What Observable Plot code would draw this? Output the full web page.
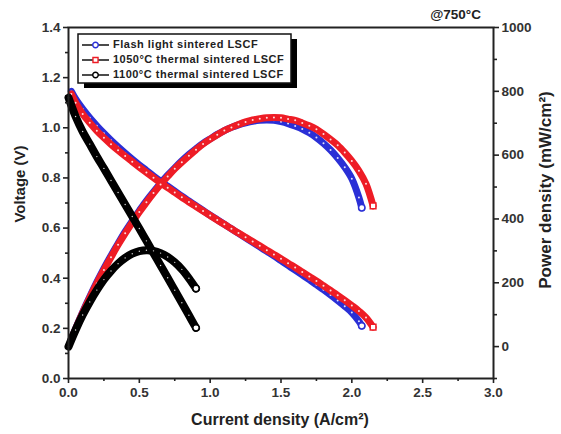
<!DOCTYPE html>
<html><head><meta charset="utf-8">
<script src="https://cdn.jsdelivr.net/npm/d3@7"></script>
<script src="https://cdn.jsdelivr.net/npm/@observablehq/plot@0.6"></script>
<style>
body{margin:0;background:#fff;}
#chart{position:relative;width:561px;height:434px;}
</style></head><body><div id="chart"></div>
<script>
// ---- data ----
const seriesNames = ["Flash light sintered LSCF", "1050°C thermal sintered LSCF", "1100°C thermal sintered LSCF"];

const current_flash = [0.02,0.05,0.10,0.15,0.20,0.25,0.30,0.35,0.40,0.45,0.50,0.55,0.60,0.65,0.70,0.75,0.80,0.85,0.90,0.95,1.00,1.05,1.10,1.15,1.20,1.25,1.30,1.35,1.40,1.45,1.50,1.55,1.60,1.65,1.70,1.75,1.80,1.85,1.90,1.95,2.00,2.05,2.07];
const voltage_flash = [1.145,1.115,1.075,1.040,1.008,0.978,0.950,0.924,0.899,0.875,0.852,0.830,0.808,0.787,0.767,0.747,0.727,0.708,0.689,0.670,0.651,0.633,0.615,0.597,0.579,0.561,0.543,0.525,0.507,0.489,0.470,0.451,0.432,0.413,0.394,0.374,0.354,0.333,0.311,0.288,0.263,0.228,0.210];
const power_flash = [23,56,108,156,202,245,285,323,360,394,426,457,485,512,537,560,582,602,620,637,651,665,677,687,695,701,706,709,710,709,705,699,691,682,670,655,637,616,591,562,526,467,435];

const current_1050 = [0.02,0.05,0.10,0.15,0.20,0.25,0.30,0.35,0.40,0.45,0.50,0.55,0.60,0.65,0.70,0.75,0.80,0.85,0.90,0.95,1.00,1.05,1.10,1.15,1.20,1.25,1.30,1.35,1.40,1.45,1.50,1.55,1.60,1.65,1.70,1.75,1.80,1.85,1.90,1.95,2.00,2.05,2.10,2.15];
const voltage_1050 = [1.135,1.100,1.055,1.020,0.988,0.960,0.934,0.910,0.887,0.865,0.843,0.822,0.801,0.781,0.761,0.742,0.723,0.704,0.686,0.668,0.650,0.632,0.615,0.597,0.580,0.563,0.546,0.529,0.512,0.495,0.478,0.460,0.443,0.425,0.407,0.389,0.370,0.351,0.332,0.312,0.291,0.269,0.243,0.205];
const power_1050 = [23,55,106,153,198,240,280,319,355,389,422,452,481,508,533,557,578,598,617,635,650,664,677,687,696,704,710,714,717,718,717,713,709,701,692,681,666,649,631,608,582,551,510,441];

const current_1100 = [0.00,0.05,0.10,0.15,0.20,0.25,0.30,0.35,0.40,0.45,0.50,0.55,0.60,0.65,0.70,0.75,0.80,0.85,0.90];
const voltage_1100 = [1.120,1.045,0.985,0.935,0.885,0.838,0.790,0.742,0.694,0.646,0.598,0.549,0.500,0.451,0.402,0.352,0.302,0.252,0.202];
const power_1100 = [0,52,99,140,177,210,237,260,278,291,299,302,300,293,281,264,242,214,182];

const xTicks = [0, 0.5, 1.0, 1.5, 2.0, 2.5, 3.0];
const xMinor = [0.25, 0.75, 1.25, 1.75, 2.25, 2.75];
const vTicks = [0, 0.2, 0.4, 0.6, 0.8, 1.0, 1.2, 1.4];
const vMinor = [0.1, 0.3, 0.5, 0.7, 0.9, 1.1, 1.3];
const pTicks = [0, 200, 400, 600, 800, 1000];
const pMinor = [-100, 100, 300, 500, 700, 900];
const V_DOMAIN = [0, 1.4];
const P_DOMAIN = [-100, 1000];

// ---- build tables ----
const pToV = p => (p - P_DOMAIN[0]) / (P_DOMAIN[1] - P_DOMAIN[0]) * (V_DOMAIN[1] - V_DOMAIN[0]) + V_DOMAIN[0];
const vToP = v => Math.round((v - V_DOMAIN[0]) / (V_DOMAIN[1] - V_DOMAIN[0]) * (P_DOMAIN[1] - P_DOMAIN[0]) + P_DOMAIN[0]);

const series = [
  {name: seriesNames[0], color: "#2a2fd6", symbol: "circle", width: 7, speck: 1.0, I: current_flash, V: voltage_flash, P: power_flash},
  {name: seriesNames[1], color: "#ee1c25", symbol: "square", width: 7, speck: 1.0, I: current_1050, V: voltage_1050, P: power_1050},
  {name: seriesNames[2], color: "#000000", symbol: "circle", width: 8, speck: 0.7, I: current_1100, V: voltage_1100, P: power_1100}
];
function rows(s, kind) {
  return s.I.map((I, i) => ({I, y: kind === "V" ? s.V[i] : pToV(s.P[i]), kind}));
}

const curveMarks = [];
for (const s of series) {
  for (const kind of ["V", "P"]) {
    const data = rows(s, kind);
    curveMarks.push(Plot.line(data, {x: "I", y: "y", stroke: s.color, strokeWidth: s.width, curve: "catmull-rom"}));
    curveMarks.push(Plot.dot(data, {x: "I", y: "y", r: s.speck, fill: "white", fillOpacity: 0.85, stroke: "none"}));
    // hollow marker at the last measured point
    curveMarks.push(Plot.dot(data.slice(-1), {x: "I", y: "y", symbol: s.symbol, r: 3.2, fill: "white", stroke: s.color, strokeWidth: 1.5}));
  }
}

const plot = Plot.plot({
  width: 561, height: 434,
  marginLeft: 68, marginRight: 68, marginTop: 27, marginBottom: 56,
  style: {fontFamily: "'Liberation Sans', Arial, sans-serif", fontSize: "13.5px", fontWeight: "bold", color: "#333", background: "#fff"},
  x: {domain: [0, 3]},
  y: {domain: V_DOMAIN},
  marks: [
    ...curveMarks,
    Plot.frame({stroke: "#222", strokeWidth: 2}),
    Plot.axisX(xTicks, {tickSize: 5, tickPadding: 4, strokeWidth: 1.6, stroke: "#222", tickFormat: d => d.toFixed(1), label: null}),
    Plot.axisX(xMinor, {tickSize: 3, strokeWidth: 1.6, stroke: "#222", tickFormat: () => "", label: null}),
    Plot.axisY(vTicks, {tickSize: 5, tickPadding: 3, strokeWidth: 1.6, stroke: "#222", tickFormat: d => d.toFixed(1), label: null}),
    Plot.axisY(vMinor, {tickSize: 3, strokeWidth: 1.6, stroke: "#222", tickFormat: () => "", label: null}),
    Plot.axisY(pTicks.map(pToV), {anchor: "right", tickSize: 5, tickPadding: 3, strokeWidth: 1.6, stroke: "#222", tickFormat: d => String(vToP(d)), label: null}),
    Plot.axisY(pMinor.map(pToV), {anchor: "right", tickSize: 3, strokeWidth: 1.6, stroke: "#222", tickFormat: () => "", label: null})
  ]
});
document.getElementById("chart").appendChild(plot);

// ---- titles and legend ----
const svg = d3.select(plot);
const font = "'Liberation Sans', Arial, sans-serif";
function label(x, y, rot, size, anchor, txt) {
  const t = svg.append("text").attr("x", x).attr("y", y)
    .attr("text-anchor", anchor).attr("dominant-baseline", "middle")
    .attr("font-family", font).attr("font-size", size).attr("font-weight", "bold").attr("fill", "#222").text(txt);
  if (rot) t.attr("transform", `rotate(${rot},${x},${y})`);
  return t;
}
label(21, 184, -90, 15, "middle", "Voltage (V)");
label(280, 421, 0, 16, "middle", "Current density (A/cm²)");
label(547, 190, -90, 17, "middle", "Power density (mW/cm²)");
label(481, 15, 0, 13.5, "end", "@750°C");

const lg = svg.append("g");
lg.append("rect").attr("x", 84).attr("y", 39).attr("width", 213).attr("height", 49).attr("fill", "#000");
lg.append("rect").attr("x", 78).attr("y", 34).attr("width", 213).attr("height", 49).attr("fill", "#fff").attr("stroke", "#111").attr("stroke-width", 1.5);
series.forEach((s, i) => {
  const y = 45 + i * 15;
  lg.append("line").attr("x1", 82).attr("x2", 109).attr("y1", y).attr("y2", y).attr("stroke", "#111").attr("stroke-width", 1.5);
  const sym = d3.symbol().type(s.symbol === "square" ? d3.symbolSquare : d3.symbolCircle).size(s.symbol === "square" ? 26 : 24);
  lg.append("path").attr("d", sym()).attr("transform", `translate(95.5,${y})`)
    .attr("fill", "white").attr("stroke", s.color).attr("stroke-width", 1.4);
  lg.append("text").attr("x", 113).attr("y", y).attr("text-anchor", "start").attr("dominant-baseline", "middle")
    .attr("letter-spacing", "0.5px")
    .attr("font-family", font).attr("font-size", 11).attr("font-weight", "bold").attr("fill", "#222").text(s.name);
});
</script>
</body></html>
